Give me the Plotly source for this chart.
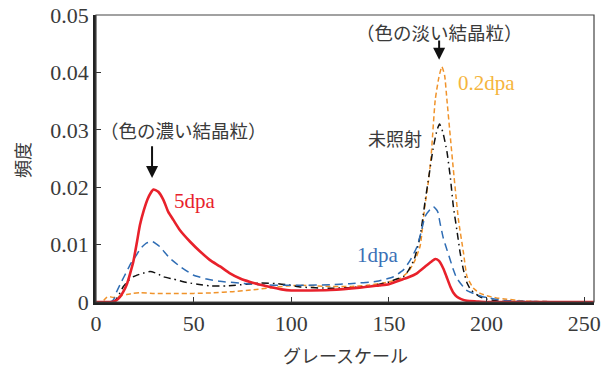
import plotly.graph_objects as go

# ---- data ----
x_5dpa = [0, 8, 10, 12.3, 14, 15.7, 17.5, 19.1, 21, 22.5, 24.5, 26.5, 28, 29.4, 30.5, 31.9, 34.5, 37, 39.6, 43,
          48.2, 53.3, 58.4, 63.5, 68.6, 73.8, 78.9, 83.1, 88, 95, 100, 105, 120, 135, 145, 150, 157.4, 160, 164.3,
          169.4, 172, 173.7, 175.5, 177.9, 179.5, 181.4, 183, 184.8, 187, 190, 195, 200, 255]
y_5dpa = [0, 0, 0.0002, 0.0009, 0.0018, 0.003, 0.005, 0.007, 0.0105, 0.0134, 0.016, 0.018, 0.019, 0.0196, 0.0195,
          0.0192, 0.0178, 0.0157, 0.0143, 0.0125, 0.0105, 0.0088, 0.0073, 0.0062, 0.005, 0.0041, 0.0035, 0.0031,
          0.0027, 0.0022, 0.002, 0.002, 0.0021, 0.0025, 0.0029, 0.0031, 0.004, 0.0043, 0.005, 0.0064,
          0.0071, 0.0075, 0.0072, 0.0058, 0.0044, 0.0027, 0.0016, 0.0009, 0.0005, 0.0002, 0.0001, 0, 0]

x_1dpa = [0, 7, 9, 10.6, 13, 15.7, 18, 20.8, 22.5, 26, 29, 31, 32.8, 35, 37.9, 43, 49.8, 56.7, 63.5, 73.8, 84, 98,
          105, 120, 130, 143.8, 152.3, 157.4, 160.9, 164.3, 166.5, 168.5, 171, 172.8, 174.9, 176.2, 177.8,
          179.7, 181.5, 183, 184.5, 186.5, 189.5, 193.3, 198, 200, 208, 222, 255]
y_1dpa = [0, 0, 0.0004, 0.0018, 0.0035, 0.0053, 0.0068, 0.0082, 0.0092, 0.0103, 0.0105, 0.0101, 0.0096, 0.0087,
          0.0076, 0.0062, 0.0047, 0.004, 0.0036, 0.0033, 0.003, 0.0029, 0.0029, 0.003, 0.0032, 0.0036, 0.0044,
          0.0056, 0.0073, 0.0096, 0.0122, 0.0149, 0.0161, 0.0166, 0.0158, 0.0137, 0.0112,
          0.0091, 0.0072, 0.0056, 0.0043, 0.0033, 0.0021, 0.0015, 0.0009, 0.0008, 0.0003, 0.0001, 0]

x_unirr = [0, 9, 11, 14, 16.5, 19.1, 23, 27.7, 31, 34.5, 39.6, 46.5, 52, 58.4, 67, 77, 84, 92, 98, 105, 120, 130,
           138.6, 145, 150, 154, 157.4, 160, 163, 166, 168.5, 170.5, 172.5, 174.5, 175.9, 177.5, 179.7, 181.5, 183,
           184.8, 186.5, 188.2, 190, 192, 196.7, 200, 205, 215, 255]
y_unirr = [0, 0, 0.0008, 0.0027, 0.0037, 0.0044, 0.0049, 0.0053, 0.005, 0.0044, 0.004, 0.0034, 0.0031, 0.0028,
           0.0028, 0.0031, 0.0033, 0.0032, 0.003, 0.0026, 0.0024, 0.0025, 0.0027, 0.0031, 0.0035, 0.004,
           0.0044, 0.0055, 0.0075, 0.0115, 0.0175, 0.022, 0.0265, 0.0298, 0.031, 0.0297, 0.0262, 0.0215, 0.0166,
           0.0125, 0.0085, 0.0055, 0.0033, 0.0021, 0.0009, 0.0005, 0.0002, 0, 0]

x_02dpa = [0, 2.5, 4, 5.5, 7, 9, 11, 13, 15.7, 19, 22.5, 30, 40, 50, 60, 70, 80, 90, 98, 105, 120, 130, 138.6, 147.2,
           155.7, 160, 163.4, 166, 168.3, 170.2, 171.5, 173.7, 175.5, 177.1, 178.5, 179.7, 181.5, 183, 184.3,
           185.6, 188.2, 190, 193.3, 196.7, 200.2, 205, 210.4, 218, 224, 255]
y_02dpa = [0, 0, 0.0003, 0.0008, 0.0009, 0.0008, 0.0009, 0.0011, 0.0013, 0.0015, 0.0016, 0.0015, 0.0015, 0.0015,
           0.0016, 0.0018, 0.0021, 0.0025, 0.0028, 0.0029, 0.0027, 0.0027, 0.0029, 0.0033, 0.0041, 0.0053, 0.0073,
           0.0098, 0.0165, 0.021, 0.025, 0.0352, 0.039, 0.041, 0.0395, 0.0352, 0.0285, 0.023, 0.0185,
           0.0143, 0.0085, 0.0044, 0.0024, 0.0015, 0.0011, 0.0007, 0.0005, 0.0002, 0.0001, 0]

x_ticks = [0, 50, 100, 150, 200, 250]
y_ticks = [0, 0.01, 0.02, 0.03, 0.04, 0.05]
y_tick_text = ["0", "0.01", "0.02", "0.03", "0.04", "0.05"]

RED = "#e8212b"
BLUE = "#2f6db4"
ORANGE = "#f0932b"
BLACK = "#111111"
SERIF = "Liberation Serif"
JP = "Noto Sans CJK JP"
TXT = "#3a3a3a"

L, R, T, B = 96, 594, 15, 302
PW, PH = R - L, B - T

fig = go.Figure()
fig.add_trace(go.Scatter(x=x_02dpa, y=y_02dpa, mode="lines", line=dict(color=ORANGE, width=1.5, dash="5px,3px", shape="spline", smoothing=0.5)))
fig.add_trace(go.Scatter(x=x_unirr, y=y_unirr, mode="lines", line=dict(color=BLACK, width=1.5, dash="7px,4px,1.5px,4px", shape="spline", smoothing=0.5)))
fig.add_trace(go.Scatter(x=x_1dpa, y=y_1dpa, mode="lines", line=dict(color=BLUE, width=1.5, dash="8px,5px", shape="spline", smoothing=0.5)))
fig.add_trace(go.Scatter(x=x_5dpa, y=y_5dpa, mode="lines", line=dict(color=RED, width=2.6, shape="spline", smoothing=0.5)))

ann = [
    dict(x=44.6, y=0.03, text="（色の濃い結晶粒）", showarrow=False, font=dict(family=JP, size=18.5, color=TXT)),
    dict(x=28.7, y=0.0216, ax=28.7, ay=0.0274, axref="x", ayref="y", text="", showarrow=True,
         arrowhead=2, arrowsize=1.2, arrowwidth=2, arrowcolor="#111"),
    dict(x=175.7, y=0.047, text="（色の淡い結晶粒）", showarrow=False, font=dict(family=JP, size=18.5, color=TXT)),
    dict(x=175.7, y=0.0422, ax=175.7, ay=0.0458, axref="x", ayref="y", text="", showarrow=True,
         arrowhead=2, arrowsize=1.2, arrowwidth=2, arrowcolor="#111"),
    dict(x=199.8, y=0.0382, text="0.2dpa", showarrow=False, font=dict(family=SERIF, size=21, color="#f5b53d")),
    dict(x=153.2, y=0.0286, text="未照射", showarrow=False, font=dict(family=JP, size=18, color=TXT)),
    dict(x=50.7, y=0.0176, text="5dpa", showarrow=False, font=dict(family=SERIF, size=21, color=RED)),
    dict(x=144.2, y=0.0082, text="1dpa", showarrow=False, font=dict(family=SERIF, size=21, color="#3a70b6")),
    dict(x=(345 - L) / PW, y=(B - 355) / PH, xref="paper", yref="paper", xanchor="center", yanchor="middle",
         text="グレースケール", showarrow=False, font=dict(family=JP, size=18, color=TXT)),
    dict(x=(22 - L) / PW, y=(B - 160) / PH, xref="paper", yref="paper", xanchor="center", yanchor="middle",
         text="頻度", showarrow=False, textangle=-90, font=dict(family=JP, size=18, color=TXT)),
]

fig.update_layout(
    width=606, height=373,
    margin=dict(l=L, r=606 - R, t=T, b=373 - B, autoexpand=False),
    plot_bgcolor="white", paper_bgcolor="white",
    showlegend=False,
    annotations=ann,
    shapes=[dict(type="rect", xref="paper", yref="paper", x0=0, y0=0, x1=1, y1=1,
                 line=dict(color="#444", width=1.2), layer="above")],
    xaxis=dict(range=[0, 255], tickvals=x_ticks, ticks="inside", ticklen=5, tickcolor="#333", automargin=False,
               showline=True, linecolor="#222", linewidth=2.5, showgrid=False, zeroline=False,
               tickfont=dict(family=SERIF, size=22, color=TXT)),
    yaxis=dict(range=[0, 0.05], tickvals=y_ticks, ticktext=y_tick_text, ticks="inside", ticklen=5, tickcolor="#333",
               automargin=False, showline=True, linecolor="#222", linewidth=2.5, showgrid=False, zeroline=False,
               tickfont=dict(family=SERIF, size=22, color=TXT)),
)

fig.write_html("out.html")
